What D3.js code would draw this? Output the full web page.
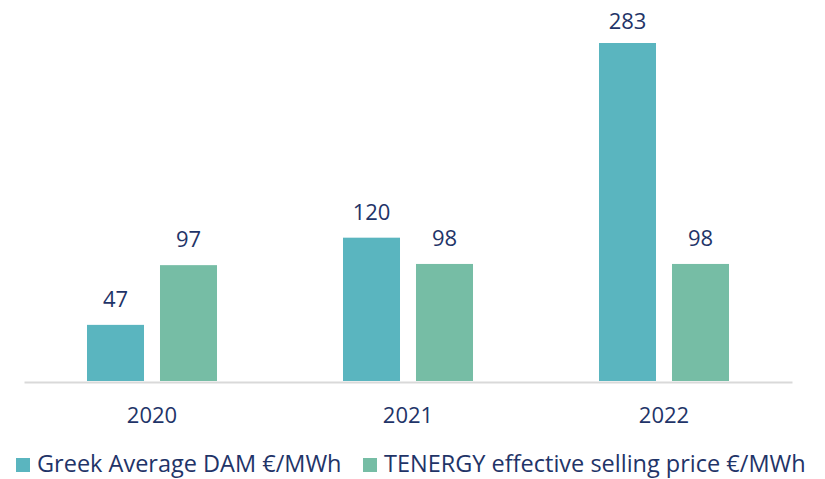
<!DOCTYPE html>
<html>
<head>
<meta charset="utf-8">
<script src="https://cdn.jsdelivr.net/npm/d3@7"></script>
<style>
  body { margin: 0; background: #fff; }
  text { font-family: "Open Sans", "Noto Sans", sans-serif; fill: #1f3468; }
</style>
</head>
<body>
<div id="chart"></div>
<script>
// chart data
var years = ["2020", "2021", "2022"];
var seriesNames = ["Greek Average DAM €/MWh", "TENERGY effective selling price €/MWh"];
var damValues = [47, 120, 283];
var tenergyValues = [97, 98, 98];
var seriesColors = ["#5ab5bf", "#76bda5"];

var width = 825,
    height = 479,
    margin = { top: 43, right: 33, bottom: 98, left: 24 };

var data = years.map(function (y, i) {
    return { year: y, values: [damValues[i], tenergyValues[i]] };
});

var svg = d3.select("#chart")
    .append("svg")
    .attr("width", width)
    .attr("height", height);

var x0 = d3.scaleBand()
    .domain(years)
    .range([margin.left, width - margin.right]);

// two bars per year, 57px wide with a 16px gap
var x1 = d3.scaleBand()
    .domain([0, 1])
    .range([0, x0.bandwidth()])
    .paddingInner(0.219)
    .paddingOuter(0.863);

var y = d3.scaleLinear()
    .domain([0, 283])
    .range([height - margin.bottom, margin.top]);

var groups = svg.selectAll(".year")
    .data(data)
    .enter()
    .append("g")
    .attr("class", "year")
    .attr("transform", function (d) { return "translate(" + x0(d.year) + ",0)"; });

groups.selectAll("rect")
    .data(function (d) { return d.values; })
    .enter()
    .append("rect")
    .attr("x", function (d, i) { return x1(i); })
    .attr("y", function (d) { return y(d); })
    .attr("width", x1.bandwidth())
    .attr("height", function (d) { return y(0) - y(d); })
    .attr("fill", function (d, i) { return seriesColors[i]; });

// value labels above bars, kept inside the top of the chart like Excel does
groups.selectAll(".val")
    .data(function (d) { return d.values; })
    .enter()
    .append("text")
    .attr("class", "val")
    .attr("x", function (d, i) { return x1(i) + x1.bandwidth() / 2; })
    .attr("y", function (d) { return Math.max(29, y(d) - 18); })
    .attr("text-anchor", "middle")
    .style("font-size", "22px")
    .text(function (d) { return d; });

// x axis
var xAxis = svg.append("g")
    .attr("transform", "translate(0," + (y(0) + 1) + ")")
    .call(d3.axisBottom(x0).tickSize(0).tickPadding(25));

xAxis.select(".domain")
    .attr("stroke", "#d9d9d9")
    .attr("stroke-width", 2);

xAxis.selectAll("text")
    .style("font-family", "'Open Sans', sans-serif")
    .style("font-size", "22px")
    .attr("fill", "#1f3468");

// legend
var legendX = [16, 363];
var legend = svg.selectAll(".legend")
    .data(seriesNames)
    .enter()
    .append("g")
    .attr("class", "legend")
    .attr("transform", function (d, i) { return "translate(" + legendX[i] + ",458)"; });

legend.append("rect")
    .attr("width", 14)
    .attr("height", 14)
    .attr("fill", function (d, i) { return seriesColors[i]; });

legend.append("text")
    .attr("x", 21)
    .attr("y", 14)
    .style("font-size", "23.5px")
    .text(function (d) { return d; });
</script>
</body>
</html>
